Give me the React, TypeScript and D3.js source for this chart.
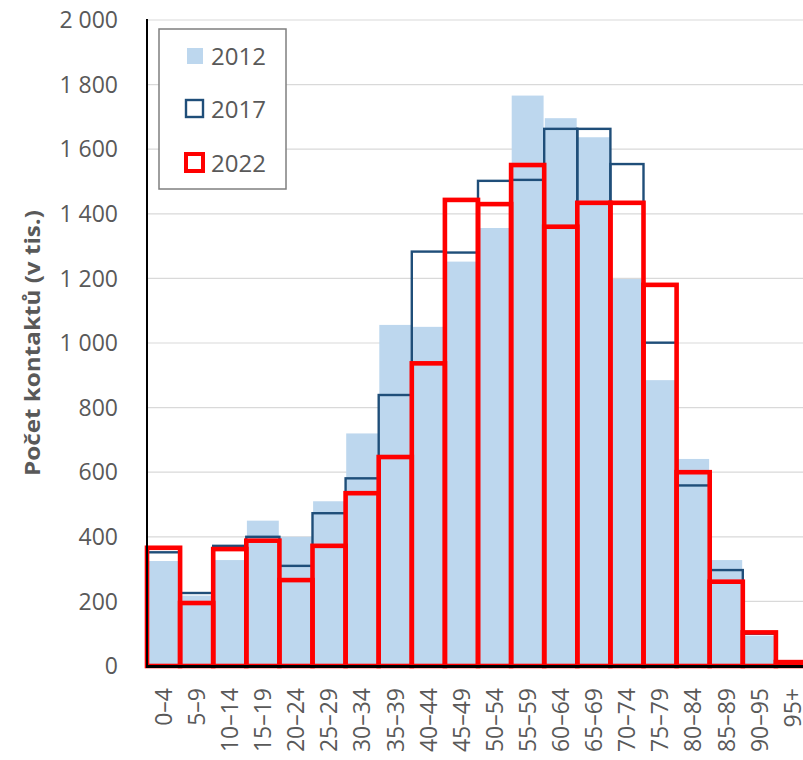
import React from "react";
import * as d3 from "d3";

const categories = ["0–4","5–9","10–14","15–19","20–24","25–29","30–34","35–39","40–44","45–49","50–54","55–59","60–64","65–69","70–74","75–79","80–84","85–89","90–95","95+"];
const values2012 = [325,218,328,450,400,510,720,1056,1050,1252,1356,1766,1696,1637,1198,885,641,328,94,10];
const values2017 = [352,226,372,400,310,473,581,839,1283,1280,1502,1505,1663,1663,1554,1001,559,297,100,12];
const values2022 = [366,195,362,388,266,372,535,647,937,1443,1430,1551,1360,1434,1434,1180,600,261,104,12];
const yTicks = [0,200,400,600,800,1000,1200,1400,1600,1800,2000];
const yTickLabels = ["0","200","400","600","800","1 000","1 200","1 400","1 600","1 800","2 000"];
const legendItems = ["2012","2017","2022"];

const W = 803, H = 760;
const left = 147, right = 809, top = 20, bottom = 666;
const FONT = "'Open Sans', 'Noto Sans', sans-serif";
const TXT = "#595959";

export default function App() {
  const x = d3.scaleBand<string>().domain(categories).range([left, right]).padding(0);
  const y = d3.scaleLinear().domain([0, 2000]).range([bottom, top]);
  const bw = x.bandwidth();

  return (
    <svg width={W} height={H} style={{ position: "absolute", left: 0, top: 0, background: "#fff" }}>
      {yTicks.map((t) => (
        <line key={"g" + t} x1={left} x2={W} y1={y(t)} y2={y(t)} stroke="#d9d9d9" strokeWidth={1.2} />
      ))}
      {categories.map((c, i) => (
        <rect key={"b" + c} x={x(c)! + 0.6} width={bw - 1.2} y={y(values2012[i])} height={y(0) - y(values2012[i])} fill="#BDD7EE" />
      ))}
      {categories.map((c, i) => (
        <rect key={"o" + c} x={x(c)!} width={bw} y={y(values2017[i])} height={y(0) - y(values2017[i])} fill="none" stroke="#1F4E79" strokeWidth={2.4} />
      ))}
      {categories.map((c, i) => (
        <rect key={"r" + c} x={x(c)!} width={bw} y={y(values2022[i])} height={y(0) - y(values2022[i])} fill="none" stroke="#FF0000" strokeWidth={4.6} />
      ))}
      <line x1={left} x2={left} y1={top - 1} y2={bottom} stroke="#000" strokeWidth={2} />
      <line x1={left - 1} x2={W} y1={bottom + 0.5} y2={bottom + 0.5} stroke="#000" strokeWidth={3} />
      {yTicks.map((t, i) => (
        <text key={"t" + t} x={118} y={y(t)} dy="0.36em" textAnchor="end" fontFamily={FONT} fontSize={23} fill={TXT}>
          {yTickLabels[i]}
        </text>
      ))}
      {categories.map((c) => (
        <text key={"x" + c} transform={`translate(${x(c)! + bw / 2},688) rotate(-90)`} dy="0.36em" textAnchor="end" fontFamily={FONT} fontSize={23} fill={TXT}>
          {c}
        </text>
      ))}
      <text transform={`translate(32,343) rotate(-90)`} dy="0.36em" textAnchor="middle" fontFamily={FONT} fontSize={22} fontWeight="bold" fill={TXT} textLength={266} lengthAdjust="spacingAndGlyphs">
        Počet kontaktů (v tis.)
      </text>
      <rect x={159} y={29} width={127} height={160} fill="#fff" stroke="#7f7f7f" strokeWidth={1.5} />
      <rect x={187} y={48} width={16} height={16} fill="#BDD7EE" />
      <rect x={186} y={100} width={17} height={17} fill="none" stroke="#1F4E79" strokeWidth={2.4} />
      <rect x={186} y={154} width={17} height={17} fill="none" stroke="#FF0000" strokeWidth={4} />
      {legendItems.map((l, i) => (
        <text key={"l" + l} x={211} y={[65, 118, 172][i]} fontFamily={FONT} fontSize={24} fill={TXT}>
          {l}
        </text>
      ))}
    </svg>
  );
}
